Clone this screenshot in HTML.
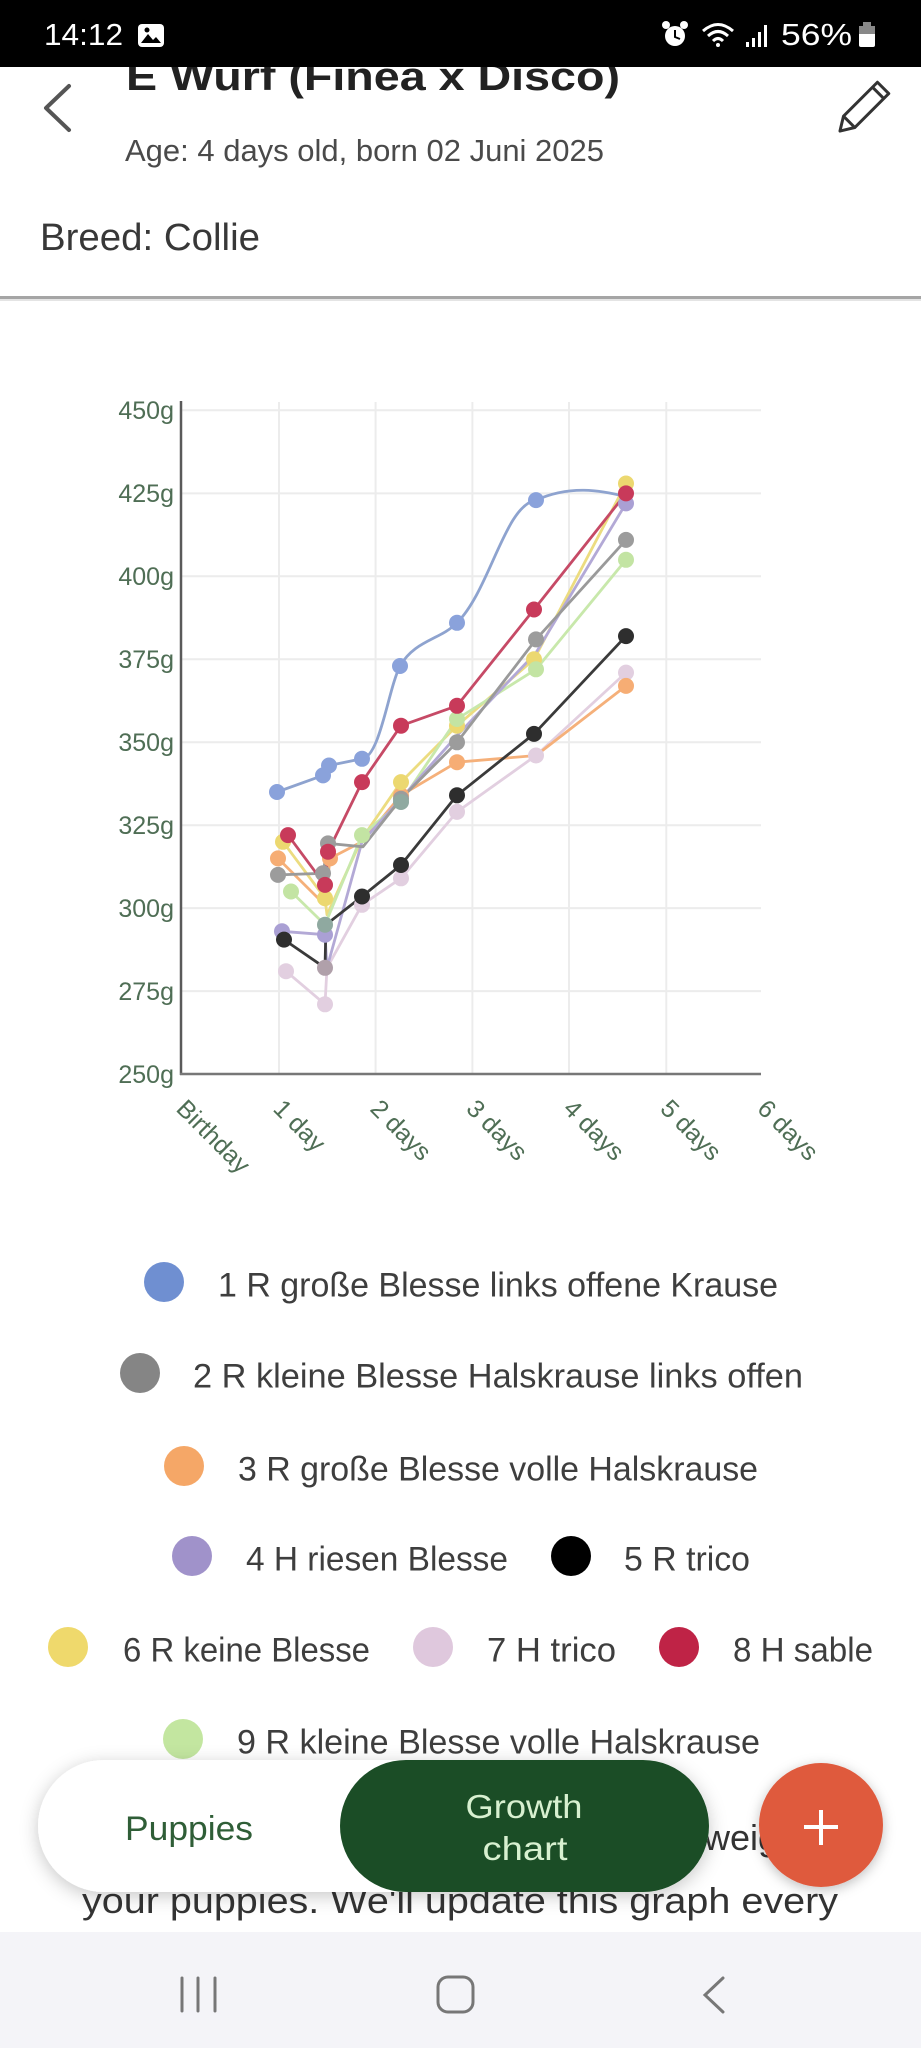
<!DOCTYPE html>
<html><head><meta charset="utf-8"><style>
html,body{margin:0;padding:0;background:#fff;}
svg{display:block;font-family:"Liberation Sans",sans-serif;}
</style></head><body>
<svg width="921" height="2048" viewBox="0 0 921 2048" xmlns="http://www.w3.org/2000/svg">
<defs>
<filter id="sh" x="-20%" y="-40%" width="140%" height="180%"><feDropShadow dx="0" dy="4" stdDeviation="9" flood-color="#000" flood-opacity="0.22"/></filter>
<filter id="sh2" x="-30%" y="-30%" width="160%" height="160%"><feDropShadow dx="0" dy="3" stdDeviation="6" flood-color="#000" flood-opacity="0.25"/></filter>
</defs>
<rect width="921" height="2048" fill="#fff"/>

<!-- header -->
<text x="126" y="90" font-size="40" font-weight="bold" fill="#222" textLength="494" lengthAdjust="spacingAndGlyphs">E Wurf (Finea x Disco)</text>
<polyline points="69,86 46,108 69,130" fill="none" stroke="#555" stroke-width="4" stroke-linecap="round" stroke-linejoin="round"/>
<g transform="translate(864,107) rotate(-45)" fill="none" stroke="#333" stroke-width="3" stroke-linejoin="round">
<path d="M-34,0 L-21,-8 L27,-8 L27,8 L-21,8 Z"/>
<line x1="-21" y1="-8" x2="-21" y2="8"/>
<line x1="20" y1="-8" x2="20" y2="8"/>
</g>
<text x="125" y="161" font-size="31" fill="#4a4a4a" textLength="479" lengthAdjust="spacingAndGlyphs">Age: 4 days old, born 02 Juni 2025</text>
<text x="40" y="250" font-size="38" fill="#383838" textLength="220" lengthAdjust="spacingAndGlyphs">Breed: Collie</text>
<rect x="0" y="296" width="921" height="3" fill="#a5a5a5"/>
<rect x="0" y="299" width="921" height="2" fill="#e4e4e4"/>

<!-- status bar -->
<rect x="0" y="0" width="921" height="67" fill="#000"/>
<text x="44" y="45" font-size="31" fill="#fff" textLength="79" lengthAdjust="spacingAndGlyphs">14:12</text>
<rect x="138" y="24" width="26" height="23" rx="4" fill="#fff"/>
<path d="M141,43 L148,34 L153,40 L156,37 L161,43 Z" fill="#000"/>
<circle cx="147" cy="30" r="2.5" fill="#000"/>
<circle cx="675" cy="36" r="10" fill="#fff"/>
<circle cx="666" cy="25" r="4" fill="#fff"/><circle cx="684" cy="25" r="4" fill="#fff"/>
<path d="M675,30 L675,37 L680,39" stroke="#000" stroke-width="2" fill="none"/>
<path d="M703,31 Q718,18 733,31" stroke="#fff" stroke-width="3" fill="none"/>
<path d="M708,36 Q718,27 728,36" stroke="#fff" stroke-width="3" fill="none"/>
<path d="M713,41 Q718,36 723,41" stroke="#fff" stroke-width="3" fill="none"/>
<circle cx="718" cy="45" r="2" fill="#fff"/>
<rect x="746" y="42" width="3" height="5" fill="#fff"/>
<rect x="752" y="38" width="3" height="9" fill="#fff"/>
<rect x="758" y="32" width="3" height="15" fill="#fff"/>
<rect x="764" y="25" width="3" height="22" fill="#fff"/>
<text x="781" y="45" font-size="31" fill="#fff" textLength="71" lengthAdjust="spacingAndGlyphs">56%</text>
<rect x="863" y="22" width="8" height="4" fill="#888"/>
<rect x="859" y="26" width="16" height="21" rx="2" fill="#fff"/>
<rect x="859" y="26" width="16" height="8" fill="#888"/>

<!-- chart grid -->
<g stroke="#ececec" stroke-width="2">
<line x1="181" y1="410.3" x2="761" y2="410.3"/>
<line x1="181" y1="493.4" x2="761" y2="493.4"/>
<line x1="181" y1="576.3" x2="761" y2="576.3"/>
<line x1="181" y1="659.3" x2="761" y2="659.3"/>
<line x1="181" y1="742.3" x2="761" y2="742.3"/>
<line x1="181" y1="825.2" x2="761" y2="825.2"/>
<line x1="181" y1="908.1" x2="761" y2="908.1"/>
<line x1="181" y1="991.1" x2="761" y2="991.1"/>
<line x1="279" y1="402" x2="279" y2="1074"/>
<line x1="375.6" y1="402" x2="375.6" y2="1074"/>
<line x1="472.4" y1="402" x2="472.4" y2="1074"/>
<line x1="569" y1="402" x2="569" y2="1074"/>
<line x1="666.3" y1="402" x2="666.3" y2="1074"/>
</g>
<line x1="181" y1="401" x2="181" y2="1075" stroke="#5a5a5a" stroke-width="2.5"/>
<line x1="180" y1="1074" x2="761" y2="1074" stroke="#777" stroke-width="2.5"/>

<g font-size="25" fill="#4f6e55" text-anchor="end">
<text x="174" y="419">450g</text>
<text x="174" y="502">425g</text>
<text x="174" y="585">400g</text>
<text x="174" y="668">375g</text>
<text x="174" y="751">350g</text>
<text x="174" y="834">325g</text>
<text x="174" y="917">300g</text>
<text x="174" y="1000">275g</text>
<text x="174" y="1083">250g</text>
</g>
<g font-size="25" fill="#4f6e55">
<text transform="translate(175,1110) rotate(45)">Birthday</text>
<text transform="translate(272,1110) rotate(45)">1 day</text>
<text transform="translate(369,1110) rotate(45)">2 days</text>
<text transform="translate(465,1110) rotate(45)">3 days</text>
<text transform="translate(562,1110) rotate(45)">4 days</text>
<text transform="translate(659,1110) rotate(45)">5 days</text>
<text transform="translate(756,1110) rotate(45)">6 days</text>
</g>

<!-- series lines -->
<g fill="none" stroke-width="2.8" stroke-linejoin="round" stroke-linecap="round">
<polyline stroke="#e2cfe0" points="286,971.2 325,1004.3 327,967.8 362,904.8 401,878.3 457,811.9 536,755.5 626,672.6"/>
<polyline stroke="#f5b07a" points="278,858.4 325,905 330,858.4 362,841.8 401,795.3 457,762.2 536,755.5 626,685.9"/>
<polyline stroke="#ecdc80" points="283,841.8 325,898.2 327,914.8 362,838.5 401,782.1 457,725.7 534,659.3 626,483.5"/>
<polyline stroke="#c8e8ab" points="291,891.5 325,924.7 362,835.1 401,802 457,719 536,669.3 626,559.8"/>
<polyline stroke="#b3a9d6" points="282,931.3 325,934.7 327,967.8 362,841.8 401,798.7 457,735.6 536,652.7 626,503.4"/>
<polyline stroke="#9a9a9a" points="278,874.9 323,873.3 328,843.4 363,846.8 401,798.7 457,742.3 536,639.4 626,539.9"/>
<path stroke="#8ea3cf" d="M277,792 L323,775.4 L329,765.5 L362,758.8 C380,757 388,690 400,666 C415,640 440,640 457,622.8 C490,590 505,505 536,500.1 C570,485 600,490 626,496.7"/>
<polyline stroke="#c64a66" points="288,835.1 325,884.9 328,851.7 362,782.1 401,725.7 457,705.8 534,609.5 626,493.4"/>
<polyline stroke="#3a3a3a" points="284,939.6 325,967.8 326,924.7 362,896.5 401,865 457,795.3 534,733.9 626,636.1"/>
</g>

<!-- series points -->
<g fill="#e2cfe0"><circle cx="286" cy="971.2" r="8"/><circle cx="325" cy="1004.3" r="8"/><circle cx="362" cy="904.8" r="8"/><circle cx="401" cy="878.3" r="8"/><circle cx="457" cy="811.9" r="8"/><circle cx="536" cy="755.5" r="8"/><circle cx="626" cy="672.6" r="8"/></g>
<g fill="#f6ad74"><circle cx="278" cy="858.4" r="8"/><circle cx="330" cy="858.4" r="8"/><circle cx="401" cy="795.3" r="8"/><circle cx="457" cy="762.2" r="8"/><circle cx="626" cy="685.9" r="8"/></g>
<g fill="#ecd870"><circle cx="283" cy="841.8" r="8"/><circle cx="325" cy="898.2" r="8"/><circle cx="401" cy="782.1" r="8"/><circle cx="457" cy="725.7" r="8"/><circle cx="534" cy="659.3" r="8"/><circle cx="626" cy="483.5" r="8"/></g>
<g fill="#c3e4a3"><circle cx="291" cy="891.5" r="8"/><circle cx="362" cy="835.1" r="8"/><circle cx="457" cy="719" r="8"/><circle cx="536" cy="669.3" r="8"/><circle cx="626" cy="559.8" r="8"/></g>
<g fill="#aaa0d4"><circle cx="282" cy="931.3" r="8"/><circle cx="325" cy="934.7" r="8"/><circle cx="626" cy="503.4" r="8"/></g>
<g fill="#9c9c9c"><circle cx="278" cy="874.9" r="8"/><circle cx="323" cy="873.3" r="8"/><circle cx="328" cy="843.4" r="8"/><circle cx="401" cy="798.7" r="8"/><circle cx="457" cy="742.3" r="8"/><circle cx="536" cy="639.4" r="8"/><circle cx="626" cy="539.9" r="8"/></g>
<g fill="#8aa2db"><circle cx="277" cy="792" r="8"/><circle cx="323" cy="775.4" r="8"/><circle cx="329" cy="765.5" r="8"/><circle cx="362" cy="758.8" r="8"/><circle cx="400" cy="666" r="8"/><circle cx="457" cy="622.8" r="8"/><circle cx="536" cy="500.1" r="8"/></g>
<g fill="#8fa9a0"><circle cx="325" cy="924.7" r="8"/><circle cx="401" cy="802" r="8"/></g>
<g fill="#c83a5a"><circle cx="288" cy="835.1" r="8"/><circle cx="325" cy="884.9" r="8"/><circle cx="328" cy="851.7" r="8"/><circle cx="362" cy="782.1" r="8"/><circle cx="401" cy="725.7" r="8"/><circle cx="457" cy="705.8" r="8"/><circle cx="534" cy="609.5" r="8"/><circle cx="626" cy="493.4" r="8"/></g>
<g fill="#2e2e2e"><circle cx="284" cy="939.6" r="8"/><circle cx="362" cy="896.5" r="8"/><circle cx="401" cy="865" r="8"/><circle cx="457" cy="795.3" r="8"/><circle cx="534" cy="733.9" r="8"/><circle cx="626" cy="636.1" r="8"/></g>
<circle cx="325" cy="967.8" r="8" fill="#b0a0aa"/>

<!-- legend -->
<g font-size="34" fill="#3e3e3e">
<circle cx="164" cy="1282" r="20" fill="#6f8fd1"/>
<text x="218" y="1296.5" textLength="560" lengthAdjust="spacingAndGlyphs">1 R große Blesse links offene Krause</text>
<circle cx="140" cy="1373" r="20" fill="#858585"/>
<text x="193" y="1387.5" textLength="610" lengthAdjust="spacingAndGlyphs">2 R kleine Blesse Halskrause links offen</text>
<circle cx="184" cy="1466" r="20" fill="#f5a767"/>
<text x="238" y="1480.5" textLength="520" lengthAdjust="spacingAndGlyphs">3 R große Blesse volle Halskrause</text>
<circle cx="192" cy="1556" r="20" fill="#a092ca"/>
<text x="246" y="1570.5" textLength="262" lengthAdjust="spacingAndGlyphs">4 H riesen Blesse</text>
<circle cx="571" cy="1556" r="20" fill="#000"/>
<text x="624" y="1570.5" textLength="126" lengthAdjust="spacingAndGlyphs">5 R trico</text>
<circle cx="68" cy="1647" r="20" fill="#efd96c"/>
<text x="123" y="1661.5" textLength="247" lengthAdjust="spacingAndGlyphs">6 R keine Blesse</text>
<circle cx="433" cy="1647" r="20" fill="#dfc8dd"/>
<text x="487" y="1661.5" textLength="129" lengthAdjust="spacingAndGlyphs">7 H trico</text>
<circle cx="679" cy="1647" r="20" fill="#bf2346"/>
<text x="733" y="1661.5" textLength="140" lengthAdjust="spacingAndGlyphs">8 H sable</text>
<circle cx="183" cy="1739" r="20" fill="#c3e6a0"/>
<text x="237" y="1753.5" textLength="523" lengthAdjust="spacingAndGlyphs">9 R kleine Blesse volle Halskrause</text>
</g>

<!-- underlying text -->
<text x="704" y="1850" font-size="36" fill="#333">weight</text>
<text x="82" y="1913" font-size="36" fill="#333" textLength="756" lengthAdjust="spacingAndGlyphs">your puppies. We'll update this graph every</text>

<!-- bottom nav pill -->
<rect x="38" y="1760" width="671" height="132" rx="66" fill="#fff" filter="url(#sh)"/>
<rect x="340" y="1760" width="369" height="132" rx="66" fill="#1b4d26"/>
<text x="125" y="1840" font-size="34" fill="#2f5e37" textLength="128" lengthAdjust="spacingAndGlyphs">Puppies</text>
<text x="524" y="1818" font-size="33" fill="#d8f0d0" text-anchor="middle" textLength="117" lengthAdjust="spacingAndGlyphs">Growth</text>
<text x="525" y="1860" font-size="33" fill="#d8f0d0" text-anchor="middle" textLength="85" lengthAdjust="spacingAndGlyphs">chart</text>

<circle cx="821" cy="1825" r="62" fill="#df5a3d" filter="url(#sh2)"/>
<line x1="804" y1="1827" x2="838" y2="1827" stroke="#fff" stroke-width="4"/>
<line x1="821" y1="1810" x2="821" y2="1845" stroke="#fff" stroke-width="4"/>

<!-- system nav -->
<rect x="0" y="1932" width="921" height="116" fill="#f4f4f8"/>
<g stroke="#777" stroke-width="3" fill="none" stroke-linecap="round">
<line x1="182" y1="1978" x2="182" y2="2011"/>
<line x1="198" y1="1978" x2="198" y2="2011"/>
<line x1="215" y1="1978" x2="215" y2="2011"/>
<rect x="438" y="1977" width="35" height="35" rx="10"/>
<polyline points="723,1978 705,1995 723,2012"/>
</g>
</svg>
</body></html>
